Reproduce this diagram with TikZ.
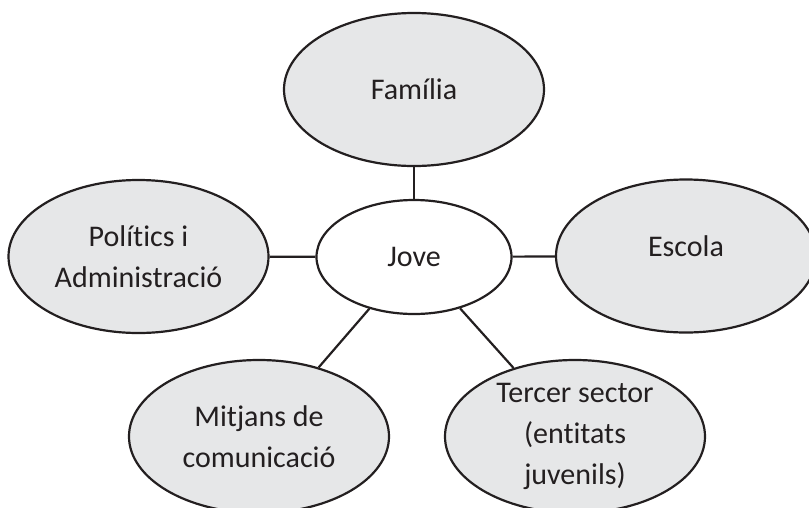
\documentclass[tikz,border=0pt]{standalone}
\usepackage{fontspec}
\setmainfont[Ligatures=NoCommon]{Carlito}
\usetikzlibrary{shapes.geometric}
\definecolor{fillgray}{HTML}{E6E7E8}
\definecolor{inkline}{HTML}{231F20}
\definecolor{inktext}{HTML}{231F20}
\tikzset{
  outer/.style={ellipse, draw=inkline, line width=2.2pt, fill=fillgray,
    minimum width=260pt, minimum height=153pt, inner sep=0pt,
    align=center, text=inktext, font=\fontsize{30}{41}\selectfont},
  centre/.style={ellipse, draw=inkline, line width=2.2pt, fill=white,
    minimum width=195pt, minimum height=114pt, inner sep=0pt,
    align=center, text=inktext, font=\fontsize{30}{41}\selectfont},
  link/.style={draw=inkline, line width=2.2pt}
}
\begin{document}
\begin{tikzpicture}[x=1pt,y=-1pt]
\useasboundingbox (0,0) rectangle (809,507);
\clip (0,0) rectangle (809,507);
\node[centre] (jove) at (414,257) {Jove};
\node[outer] (familia) at (414,89.5) {Família};
\node[outer] (politics) at (138.5,256.5) {Polítics i\\Administració};
\node[outer] (escola) at (686,256) {\raisebox{0pt}[0pt][0pt]{Escola}};
\node[outer] (mitjans) at (259,436.5) {Mitjans de\\comunicació};
\node[outer] (tercer) at (575,436.5) {Tercer sector\\(entitats\\juvenils)};
\draw[link] (jove) -- (familia);
\draw[link] (jove) -- (politics);
\draw[link] (jove) -- (escola);
\draw[link] (jove) -- (mitjans);
\draw[link] (jove) -- (tercer);
\end{tikzpicture}
\end{document}
